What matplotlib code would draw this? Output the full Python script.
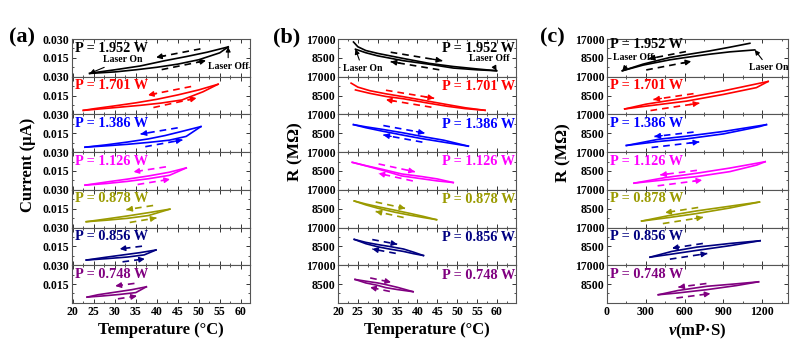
import numpy as np
import matplotlib
matplotlib.use("Agg")
import matplotlib.pyplot as plt
from matplotlib.ticker import MultipleLocator

plt.rcParams['font.family'] = ['Liberation Serif', 'DejaVu Serif']
plt.rcParams['font.weight'] = 'bold'
plt.rcParams['mathtext.fontset'] = 'custom'
plt.rcParams['mathtext.it'] = 'Liberation Serif:italic:bold'
plt.rcParams['mathtext.rm'] = 'Liberation Serif:bold'

powers = ['1.952', '1.701', '1.386', '1.126', '0.878', '0.856', '0.748']

# (a) current vs temperature, heating / cooling branch for each power
a_heat_T = [[24.0, 30, 35, 40, 45, 50, 55, 57.0],
            [22.5, 27, 31, 36, 41, 46, 51, 54.6],
            [22.9, 28, 33, 38, 43, 47, 50.5],
            [22.9, 28, 33, 38, 43, 47.0],
            [23.2, 28, 33, 38, 43.1],
            [23.2, 28, 33, 37, 39.8],
            [23.4, 27, 31, 35, 37.5]]
a_heat_I = [[0.0026, 0.0038, 0.0055, 0.0075, 0.0100, 0.0135, 0.0190, 0.0237],
            [0.0032, 0.0045, 0.0057, 0.0072, 0.0090, 0.0115, 0.0180, 0.0240],
            [0.0039, 0.0050, 0.0062, 0.0077, 0.0095, 0.0125, 0.0203],
            [0.0037, 0.0050, 0.0067, 0.0088, 0.0115, 0.0174],
            [0.0046, 0.0058, 0.0073, 0.0095, 0.0146],
            [0.0041, 0.0052, 0.0065, 0.0082, 0.0121],
            [0.0046, 0.0055, 0.0067, 0.0082, 0.0128]]
a_cool_T = [[57.0, 52, 47, 42, 36, 30, 25, 24.0],
            [54.6, 50, 45, 40, 35, 30, 25, 22.5],
            [50.5, 46, 42, 38, 33, 28, 22.9],
            [47.0, 43, 38, 33, 28, 22.9],
            [43.1, 38, 33, 28, 23.2],
            [39.8, 36, 32, 28, 23.2],
            [37.5, 34, 30, 26, 23.4]]
a_cool_I = [[0.0237, 0.0195, 0.0160, 0.0128, 0.0085, 0.0055, 0.0032, 0.0026],
            [0.0240, 0.0195, 0.0155, 0.0120, 0.0092, 0.0068, 0.0045, 0.0032],
            [0.0203, 0.0165, 0.0132, 0.0105, 0.0080, 0.0058, 0.0039],
            [0.0174, 0.0140, 0.0110, 0.0085, 0.0062, 0.0037],
            [0.0146, 0.0118, 0.0092, 0.0068, 0.0046],
            [0.0121, 0.0100, 0.0082, 0.0064, 0.0041],
            [0.0128, 0.0105, 0.0085, 0.0065, 0.0046]]

# (b) resistance vs temperature
b_heat_T = [[24.4, 27, 30, 36.5, 43, 49, 55, 59.9],
            [24.4, 28, 32, 36.5, 42, 47.4, 52, 57.0],
            [23.9, 27, 31, 36.5, 41, 46.6, 52.8],
            [23.6, 27, 31, 36, 41, 45, 49.0],
            [24.1, 27, 30, 34.3, 38, 41.5, 44.8],
            [24.1, 27, 30, 33, 36.5, 39, 41.5],
            [24.3, 27, 30, 32, 35, 38.9]]
b_heat_R = [[12400, 10800, 9400, 7200, 5600, 3900, 3100, 2680],
            [11030, 9500, 8100, 7040, 5300, 3680, 2600, 1840],
            [12390, 11000, 9500, 7600, 6100, 4470, 2680],
            [12380, 10800, 8900, 6260, 5000, 4000, 3270],
            [11950, 10200, 8700, 6890, 5600, 4500, 3520],
            [11630, 9700, 8300, 7270, 6200, 5200, 4360],
            [10570, 9000, 7900, 6890, 6000, 5050]]
b_cool_T = [[59.9, 55, 49, 43, 36.5, 30, 27, 25, 23.9],
            [57.0, 52, 47.4, 42, 36.5, 32, 28, 25, 23.3],
            [52.8, 46.6, 41, 36.5, 31, 27, 23.9],
            [49.0, 45, 41, 36, 31, 27, 23.6],
            [44.8, 41.5, 38, 34.3, 30, 27, 24.1],
            [41.5, 39, 36.5, 33, 30, 27, 24.1],
            [38.9, 35, 32, 30, 27, 24.3]]
b_cool_R = [[2680, 3500, 4600, 6000, 8200, 10500, 11800, 13500, 15650],
            [1840, 3000, 4450, 6200, 7960, 9300, 10700, 12300, 14100],
            [2680, 5370, 7100, 8650, 10300, 11400, 12390],
            [3270, 4900, 6000, 7160, 9300, 10900, 12380],
            [3520, 5000, 6400, 7810, 9400, 10600, 11950],
            [4360, 5900, 7300, 8430, 9300, 10300, 11630],
            [5050, 7000, 8270, 9000, 9800, 10570]]

# (c) resistance vs viscosity
c_low_v = [[119, 279, 485, 600, 795, 950, 1143],
           [137, 300, 614, 900, 1156, 1246],
           [150, 400, 614, 900, 1180, 1233],
           [209, 450, 694, 950, 1159, 1223],
           [268, 480, 694, 950, 1179],
           [333, 500, 694, 950, 1184],
           [397, 550, 772, 1000, 1172]]
c_low_R = [[2680, 5220, 7600, 8600, 10150, 11200, 12080],
           [2450, 3700, 5970, 9000, 12080, 14850],
           [2980, 4800, 5960, 8200, 11500, 12390],
           [3000, 4500, 5950, 8200, 11180, 12660],
           [2900, 4500, 6290, 8800, 11490],
           [3620, 5000, 6670, 8800, 11030],
           [3680, 4500, 5970, 7800, 9510]]
c_up_v = [[119, 279, 485, 600, 795, 950, 1105],
          [137, 300, 614, 900, 1246],
          [150, 400, 614, 900, 1233],
          [209, 450, 694, 950, 1223],
          [268, 480, 694, 950, 1179],
          [333, 500, 694, 950, 1184],
          [397, 550, 772, 1000, 1172]]
c_up_R = [[2680, 5670, 8650, 9800, 11630, 13300, 15070],
          [2450, 4600, 7500, 10600, 14850],
          [2980, 5800, 7160, 9300, 12390],
          [3000, 5500, 7470, 9800, 12660],
          [2900, 5400, 7490, 9600, 11490],
          [3620, 6200, 8150, 9800, 11030],
          [3680, 5600, 7490, 8600, 9510]]

colors = ['black', '#ff0000', '#0000ff', '#ff00ff', '#9a9a00', '#000080', '#800080']


def mid_curve(x1, y1, x2, y2, xq):
    x1, y1, x2, y2 = map(np.asarray, (x1, y1, x2, y2))
    o1, o2 = np.argsort(x1), np.argsort(x2)
    return 0.5 * (np.interp(xq, x1[o1], y1[o1]) + np.interp(xq, x2[o2], y2[o2]))


def dash_arrow(ax, x0, x1, y0, y1, c):
    ax.plot([x0, x1], [y0, y1], color=c, lw=1.2, ls=(0, (4, 3)))
    ax.annotate('', xy=(x1, y1), xytext=(x0 + 0.8 * (x1 - x0), y0 + 0.8 * (y1 - y0)),
                arrowprops=dict(arrowstyle='-|>', color=c, lw=1, mutation_scale=8,
                                shrinkA=0, shrinkB=0))


fig = plt.figure(figsize=(8, 3.6), dpi=100)

top = 1 - 39 / 360.
rowh = 37.7 / 360.

panels = [
    # left, width, data, ylim, yticks, labels, xlim, major, minor, arrows, label side
    (72 / 800., 178 / 800., (a_heat_T, a_heat_I, a_cool_T, a_cool_I), 0.030,
     [0.015, 0.030], ['0.015', '0.030'], (19.8, 62.2), 5, 2.5,
     ((0.80, 0.48, 0.20), (0.52, 0.84, -0.15)), 'left'),
    (338 / 800., 178 / 800., (b_heat_T, b_heat_R, b_cool_T, b_cool_R), 17000,
     [8500, 17000], ['8500', '17000'], (20, 64.8), 5, 2.5,
     ((0.26, 0.62, 0.13), (0.60, 0.26, -0.12)), 'right'),
    (607 / 800., 181 / 800., (c_low_v, c_low_R, c_up_v, c_up_R), 17000,
     [8500, 17000], ['8500', '17000'], (0, 1400), 300, 150,
     ((0.48, 0.20, 0.12), (0.18, 0.52, -0.16)), 'left'),
]

axes = []
for p, (left, width, data, ytop, yt, ytl, xlim, maj, mnr, arrs, side) in enumerate(panels):
    col = []
    x1s, y1s, x2s, y2s = data
    for i in range(7):
        ax = fig.add_axes([left, top - (i + 1) * rowh, width, rowh])
        c = colors[i]
        ax.plot(x1s[i], y1s[i], color=c, lw=1.2)
        ax.plot(x2s[i], y2s[i], color=c, lw=1.2)
        xmin = min(min(x1s[i]), min(x2s[i]))
        xmax = max(max(x1s[i]), max(x2s[i]))
        for f0, f1, off in arrs:
            xa = xmin + f0 * (xmax - xmin)
            xb = xmin + f1 * (xmax - xmin)
            ya = mid_curve(x1s[i], y1s[i], x2s[i], y2s[i], xa) + off * ytop
            yb = mid_curve(x1s[i], y1s[i], x2s[i], y2s[i], xb) + off * ytop
            dash_arrow(ax, xa, xb, ya, yb, c)
        ax.set_xlim(*xlim)
        ax.set_ylim(0, ytop)
        ax.set_yticks(yt, labels=ytl)
        ax.xaxis.set_major_locator(MultipleLocator(maj))
        ax.xaxis.set_minor_locator(MultipleLocator(mnr))
        ax.yaxis.set_minor_locator(MultipleLocator(yt[0] / 2))
        ax.tick_params(which='both', direction='in', top=True, right=True,
                       labelsize=8.5, pad=2, colors='#333333', labelcolor='black')
        ax.tick_params(which='major', length=3, width=0.7)
        ax.tick_params(which='minor', length=1.5, width=0.6)
        if i < 6:
            ax.tick_params(axis='x', labelbottom=False)
        for s in ax.spines.values():
            s.set_color('#555555')
            s.set_linewidth(0.8)
        txt = 'P = ' + powers[i] + ' W'
        if side == 'left':
            ty = 0.86 if (p == 2 and i == 0) else 0.76
            ax.text(0.015, ty, txt, transform=ax.transAxes, color=c,
                    fontsize=10.3, fontweight='bold', ha='left', va='center')
        else:
            ax.text(0.995, 0.74, txt, transform=ax.transAxes, color=c,
                    fontsize=10.3, fontweight='bold', ha='right', va='center')
        col.append(ax)
    axes.append(col)

# laser on / off notes on the top rows
ap = dict(arrowstyle='-|>', color='black', lw=0.8, mutation_scale=7, shrinkA=1, shrinkB=0)
kw = dict(textcoords='offset points', fontsize=7, fontweight='bold', ha='center',
          va='center', arrowprops=ap)
ax = axes[0][0]
ax.annotate('Laser On', xy=(a_heat_T[0][0], a_heat_I[0][0]), xytext=(24, 10), **kw)
ax.annotate('Laser Off', xy=(a_heat_T[0][-1], a_heat_I[0][-1]), xytext=(0, -14), **kw)
ax = axes[1][0]
ax.annotate('Laser On', xy=(b_heat_T[0][0], b_heat_R[0][0]), xytext=(5, -14), **kw)
ax.annotate('Laser Off', xy=(b_heat_T[0][-1], b_heat_R[0][-1]), xytext=(-5, 9), **kw)
ax = axes[2][0]
ax.annotate('Laser Off', xy=(c_low_v[0][0], c_low_R[0][0]), xytext=(8, 9.5), **kw)
ax.annotate('Laser On', xy=(c_low_v[0][-1], c_low_R[0][-1]), xytext=(10, -13), **kw)

axes[0][-1].set_xlabel('Temperature (°C)', fontsize=12, fontweight='bold', labelpad=3)
axes[1][-1].set_xlabel('Temperature (°C)', fontsize=12, fontweight='bold', labelpad=3)
axes[2][-1].set_xlabel(r'$\nu$(mP·S)', fontsize=12, fontweight='bold', labelpad=3)

fig.text(28 / 800., 1 - 165 / 360., 'Current (μA)', rotation=90, fontsize=12,
         fontweight='bold', ha='center', va='center')
fig.text(295 / 800., 1 - 152 / 360., 'R (MΩ)', rotation=90, fontsize=12.5,
         fontweight='bold', ha='center', va='center')
fig.text(563 / 800., 1 - 153 / 360., 'R (MΩ)', rotation=90, fontsize=12.5,
         fontweight='bold', ha='center', va='center')

fig.text(22 / 800., 1 - 37 / 360., '(a)', fontsize=16, fontweight='bold', ha='center', va='center')
fig.text(287 / 800., 1 - 37 / 360., '(b)', fontsize=16, fontweight='bold', ha='center', va='center')
fig.text(552 / 800., 1 - 37 / 360., '(c)', fontsize=16, fontweight='bold', ha='center', va='center')

fig.savefig('out.png', dpi=100)
